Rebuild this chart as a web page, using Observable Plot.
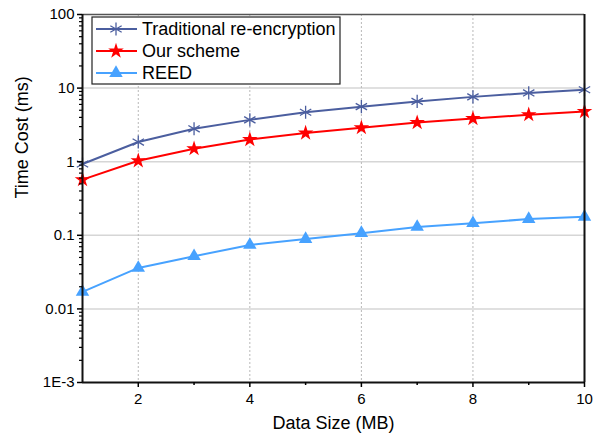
<!DOCTYPE html>
<html>
<head>
<meta charset="utf-8">
<script src="https://cdn.jsdelivr.net/npm/d3@7"></script>
<script src="https://cdn.jsdelivr.net/npm/@observablehq/plot@0.6"></script>
<style>
  html, body { margin: 0; padding: 0; background: white; }
  #chart { width: 608px; height: 440px; }
</style>
</head>
<body>
<div id="chart"></div>
<script>
// ---- data ----
const dataSize = [1, 2, 3, 4, 5, 6, 7, 8, 9, 10];
const traditional = [0.93, 1.85, 2.8, 3.7, 4.7, 5.6, 6.6, 7.6, 8.6, 9.5];
const ourScheme = [0.57, 1.03, 1.5, 2.0, 2.45, 2.9, 3.4, 3.85, 4.35, 4.8];
const reed = [0.017, 0.036, 0.052, 0.074, 0.089, 0.107, 0.13, 0.146, 0.166, 0.178];
const seriesNames = ["Traditional re-encryption", "Our scheme", "REED"];
const seriesColors = ["#4b5e9f", "#ff0000", "#47a2ff"];
const seriesSymbols = ["asterisk", "star", "triangle"];
const xTicks = [2, 4, 6, 8, 10];
const xMinorTicks = [3, 5, 7, 9];
const yTicks = [0.001, 0.01, 0.1, 1, 10, 100];
const yTickLabels = ["1E-3", "0.01", "0.1", "1", "10", "100"];
const xTitle = "Data Size (MB)";
const yTitle = "Time Cost (ms)";

const seriesValues = [traditional, ourScheme, reed];
const rows = [];
seriesValues.forEach((vals, i) => vals.forEach((v, j) => rows.push({x: dataSize[j], y: v, s: seriesNames[i]})));

const yMinor = [];
for (let e = -3; e < 2; e++) for (let m = 2; m <= 9; m++) yMinor.push(m * Math.pow(10, e));

const font = "'Liberation Sans', Arial, sans-serif";
const dotR = [6.2, 4.9, 5.0];

const plot = Plot.plot({
  width: 608,
  height: 440,
  marginLeft: 82,
  marginRight: 24,
  marginTop: 14,
  marginBottom: 58,
  style: {fontFamily: font, fontSize: "15px", background: "white", color: "black"},
  x: {domain: [1, 10], label: null},
  y: {type: "log", domain: [0.001, 100], label: null},
  color: {domain: seriesNames, range: seriesColors},
  marks: [
    Plot.gridY(yTicks.slice(1, 5), {stroke: "#d6d6d6", strokeOpacity: 1, strokeWidth: 1.5}),
    Plot.gridX(xTicks.slice(0, 4), {stroke: "#b8b8b8", strokeOpacity: 1, strokeDasharray: "2,2", strokeWidth: 1}),
    Plot.line(rows, {x: "x", y: "y", z: "s", stroke: "s", strokeWidth: 2}),
    ...seriesNames.map((name, i) =>
      Plot.dot(rows.filter(d => d.s === name), {
        x: "x", y: "y", symbol: () => seriesSymbols[i], r: dotR[i],
        ...(seriesSymbols[i] === "asterisk" ? {stroke: seriesColors[i], strokeWidth: 1.3, fill: "none"} : {fill: seriesColors[i], stroke: "none"})
      })
    ),
    Plot.ruleY([100], {stroke: "#555", strokeWidth: 1.5}),
    Plot.ruleX([10], {stroke: "#111", strokeWidth: 2}),
    Plot.ruleX([1], {stroke: "#111", strokeWidth: 2}),
    Plot.ruleY([0.001], {stroke: "#111", strokeWidth: 2}),
    Plot.axisX(xTicks, {tickSize: 5, tickPadding: 6, fontSize: 15, strokeWidth: 1.5, label: null}),
    Plot.axisX(xMinorTicks, {tickSize: 3, text: null, strokeWidth: 1.5, label: null}),
    Plot.axisY(yTicks, {tickSize: 5, tickPadding: 3, fontSize: 15, strokeWidth: 1.5,
      tickFormat: d => yTickLabels[yTicks.indexOf(d)], label: null}),
    Plot.axisY(yMinor, {tickSize: 3, text: null, strokeWidth: 1.2, label: null}),
    Plot.text([xTitle], {frameAnchor: "bottom", dy: 46, fontSize: 18, text: d => d}),
    Plot.text([yTitle], {frameAnchor: "left", dx: -60, rotate: -90, fontSize: 18, text: d => d})
  ]
});

document.getElementById("chart").appendChild(plot);

// ---- legend (inside plot area, top-left) ----
const svg = d3.select(plot);
const lg = svg.append("g").attr("font-family", font).attr("font-size", 18).attr("text-anchor", "start");
const lx = 92, ly = 17, lw = 248, lh = 67, rowH = 22;
lg.append("rect").attr("x", lx).attr("y", ly).attr("width", lw).attr("height", lh)
  .attr("fill", "white").attr("stroke", "#222").attr("stroke-width", 1.2);
const symMap = {asterisk: d3.symbolAsterisk, star: d3.symbolStar, triangle: d3.symbolTriangle};
seriesNames.forEach((name, i) => {
  const cy = ly + 12 + i * rowH;
  lg.append("line").attr("x1", lx + 4).attr("x2", lx + 45).attr("y1", cy).attr("y2", cy)
    .attr("stroke", seriesColors[i]).attr("stroke-width", 2);
  const size = dotR[i] * dotR[i] * Math.PI;
  const p = lg.append("path").attr("d", d3.symbol(symMap[seriesSymbols[i]], size)())
    .attr("transform", `translate(${lx + 24},${cy})`);
  if (seriesSymbols[i] === "asterisk") p.attr("fill", "none").attr("stroke", seriesColors[i]).attr("stroke-width", 1.3);
  else p.attr("fill", seriesColors[i]);
  lg.append("text").attr("x", lx + 50).attr("y", cy).attr("dy", "0.36em").attr("fill", "black").text(name);
});
</script>
</body>
</html>
